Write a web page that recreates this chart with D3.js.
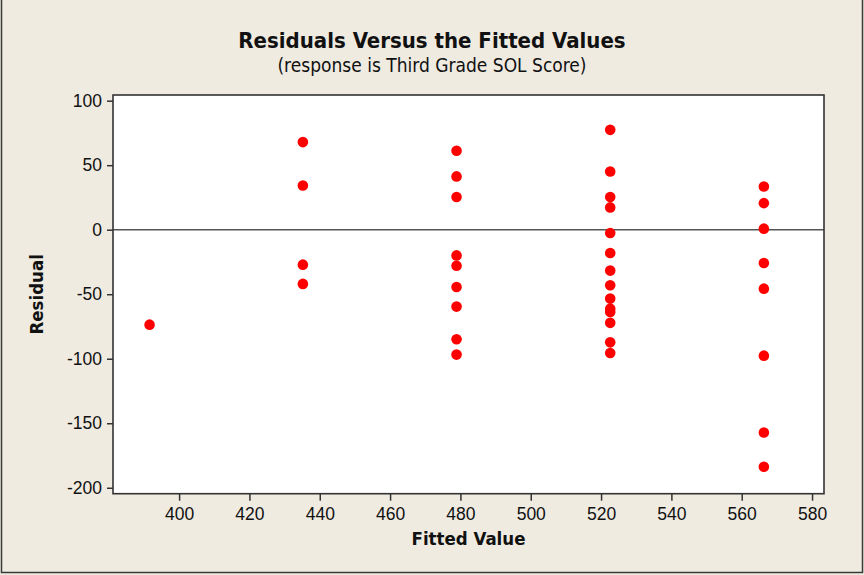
<!DOCTYPE html>
<html>
<head>
<meta charset="utf-8">
<script src="https://cdn.jsdelivr.net/npm/d3@7"></script>
<style>
  body { margin: 0; background: #efebe1; }
  svg { display: block; font-family: "DejaVu Sans Condensed", "DejaVu Sans", sans-serif; }
  .tick text { font-size: 17.5px; fill: #111; }
  .tick line { stroke: #333; stroke-width: 1.5; }
  .title { font-size: 22px; font-weight: bold; fill: #111; }
  .subtitle { font-size: 19px; fill: #111; }
  .axis-label { font-size: 18.5px; font-weight: bold; fill: #111; }
</style>
</head>
<body>
<div class="chart-container"></div>
<script>
var width = 864;
var height = 575;
var plot = {left: 113, right: 824, top: 95, bottom: 493.7};

// fitted value of each group and the residuals
var fittedLevels = [391.6, 435.2, 478.9, 522.6, 566.3];
var residualsByLevel = [
  [-73.6],
  [67.9, 34.3, -27.1, -42.0],
  [61.2, 41.3, 25.3, -19.9, -27.9, -44.4, -59.6, -84.9, -96.8],
  [77.4, 45.1, 25.3, 17.3, -2.6, -18.0, -31.7, -43.1, -53.4, -61.2, -63.7, -72.2, -87.3, -95.5],
  [33.5, 20.6, 0.8, -25.8, -45.7, -97.6, -157.2, -183.7]
];
var xTicks = [400, 420, 440, 460, 480, 500, 520, 540, 560, 580];
var yTicks = [-200, -150, -100, -50, 0, 50, 100];

var points = [];
fittedLevels.forEach(function(f, i) {
  residualsByLevel[i].forEach(function(r) {
    points.push({fitted: f, residual: r});
  });
});

var x = d3.scaleLinear()
  .domain([381.2, 583.4])
  .range([plot.left, plot.right]);

var y = d3.scaleLinear()
  .domain([-204.6, 104.4])
  .range([plot.bottom, plot.top]);

var svg = d3.select('.chart-container').append('svg')
  .attr('width', width)
  .attr('height', height);

// outer border
svg.append('rect')
  .attr('x', 1.5)
  .attr('y', -2)
  .attr('width', 861)
  .attr('height', 574.5)
  .attr('fill', '#efebe1')
  .attr('stroke', '#3a3a3a')
  .attr('stroke-width', 1.5);

// data region
svg.append('rect')
  .attr('x', plot.left)
  .attr('y', plot.top)
  .attr('width', plot.right - plot.left)
  .attr('height', plot.bottom - plot.top)
  .attr('fill', '#fff');

svg.append('line')
  .attr('x1', plot.left)
  .attr('x2', plot.right)
  .attr('y1', y(0))
  .attr('y2', y(0))
  .attr('stroke', '#555')
  .attr('stroke-width', 1.5);

// plain hyphen for negatives, like the original
var plain = d => String(d);

var gX = svg.append('g')
  .attr('transform', `translate(0, ${plot.bottom})`)
  .call(d3.axisBottom(x).tickValues(xTicks).tickFormat(plain).tickSize(7).tickPadding(7));

var gY = svg.append('g')
  .attr('transform', `translate(${plot.left},0)`)
  .call(d3.axisLeft(y).tickValues(yTicks).tickFormat(plain).tickSize(6).tickPadding(5));

gX.select('.domain').remove();
gY.select('.domain').remove();
svg.selectAll('.tick text').attr('font-family', null).attr('font-size', null);

svg.append('rect')
  .attr('x', plot.left)
  .attr('y', plot.top)
  .attr('width', plot.right - plot.left)
  .attr('height', plot.bottom - plot.top)
  .attr('fill', 'none')
  .attr('stroke', '#333')
  .attr('stroke-width', 1.6);

svg.append('g').selectAll('circle')
  .data(points)
  .enter().append('circle')
  .attr('cx', d => x(d.fitted))
  .attr('cy', d => y(d.residual))
  .attr('r', 5.3)
  .attr('fill', '#ff0000');

/*
 * Titles
 */
svg.append('text')
  .attr('class', 'title')
  .attr('text-anchor', 'middle')
  .attr('x', 432)
  .attr('y', 48)
  .text('Residuals Versus the Fitted Values');

svg.append('text')
  .attr('class', 'subtitle')
  .attr('text-anchor', 'middle')
  .attr('x', 432)
  .attr('y', 72)
  .text('(response is Third Grade SOL Score)');

svg.append('text')
  .attr('class', 'axis-label')
  .attr('text-anchor', 'middle')
  .attr('x', (plot.left + plot.right) / 2)
  .attr('y', 545)
  .text('Fitted Value');

svg.append('text')
  .attr('class', 'axis-label')
  .attr('text-anchor', 'middle')
  .attr('transform', `translate(43, ${(plot.top + plot.bottom) / 2}) rotate(-90)`)
  .text('Residual');
</script>
</body>
</html>
